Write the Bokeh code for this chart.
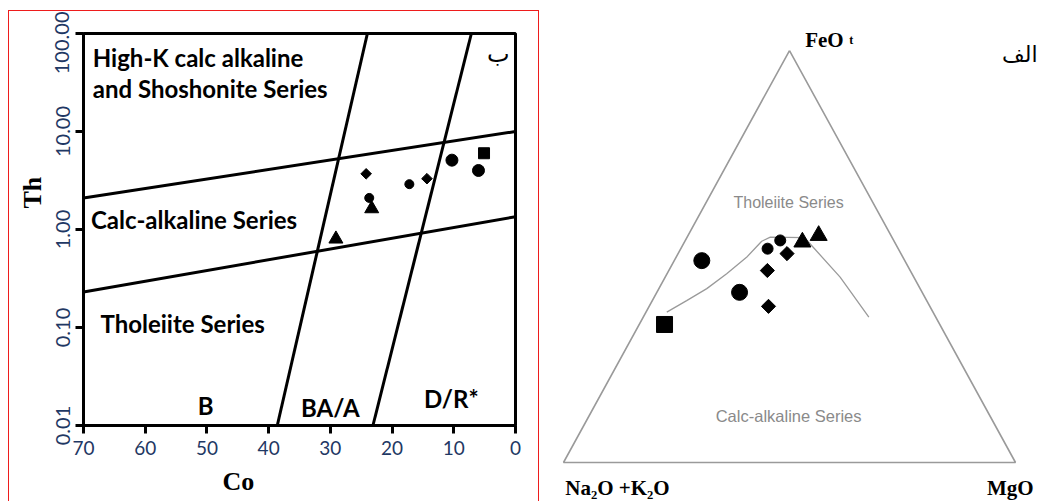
from bokeh.plotting import figure
from bokeh.models import Range1d, FixedTicker, CustomJSTickFormatter, Title
from bokeh.layouts import row
from bokeh.core.properties import value
from bokeh.embed import file_html
from bokeh.resources import INLINE

# ---------------- Left panel data: Th vs Co ----------------
co_ticks = [0, 10, 20, 30, 40, 50, 60, 70]
th_ticks = [0.01, 0.1, 1, 10, 100]

tri_co = [29.1, 23.3]
tri_th = [0.80, 1.63]
dia_co = [24.2, 14.35]
dia_th = [3.7, 3.3]
sc_co = [23.7, 17.2]
sc_th = [2.1, 2.9]
lc_co = [10.3, 6.0]
lc_th = [5.1, 4.0]
sq_co = [5.1]
sq_th = [6.0]

# boundary lines
upper_co = [70, 0]
upper_th = [2.1, 10.0]
lower_co = [70, 0]
lower_th = [0.23, 1.35]
div1_co = [38.6, 24.0]
div1_th = [0.01, 100]
div2_co = [23.1, 7.15]
div2_th = [0.01, 100]

# ---------------- Right panel data: AFM ternary (percent) ----------------
# F = FeOt, A = Na2O+K2O, M = MgO
sq_F = [33.5]; sq_M = [5.6]
lc_F = [49.0, 41.3]; lc_M = [6.1, 18.3]
sc_F = [51.9, 53.9]; sc_M = [19.2, 21.0]
dia_F = [50.7, 46.6, 37.9]; dia_M = [24.1, 21.8, 26.4]
tri_F = [53.5, 55.1]; tri_M = [26.1, 28.9]
curve_F = [36.5, 39.3, 42.2, 45.8, 49.8, 53.7, 54.7, 54.6, 45.0, 35.3]
curve_M = [4.6, 7.6, 10.6, 13.2, 15.6, 17.0, 18.4, 26.0, 38.7, 49.9]
corner_F = [100, 0, 0, 100]
corner_M = [0, 0, 100, 0]


def tern(F, M):
    xs = [m / 100.0 + f / 200.0 for f, m in zip(F, M)]
    ys = [f / 100.0 for f in F]
    return xs, ys


LABEL_COL = "#1F3864"

# ================= Left figure =================
p = figure(width=531, height=491, x_range=Range1d(70, 0), y_range=Range1d(0.01, 100),
           y_axis_type="log", output_backend="svg", toolbar_location=None,
           min_border_left=74, min_border_right=25, min_border_top=22, min_border_bottom=77,
           margin=(10, 0, 0, 8),
           styles={"border-top": "1px solid #ee1c1c", "border-left": "1px solid #ee1c1c",
                   "border-right": "1px solid #ee1c1c"})
p.frame_align = False
p.outline_line_color = "black"
p.outline_line_width = 3
p.xgrid.visible = False
p.ygrid.visible = False
p.background_fill_color = "white"
p.border_fill_color = "white"

p.xaxis.ticker = FixedTicker(ticks=co_ticks)
p.yaxis.ticker = FixedTicker(ticks=th_ticks, minor_ticks=[])
p.yaxis.formatter = CustomJSTickFormatter(code="return tick.toFixed(2);")
for ax in (p.xaxis[0], p.yaxis[0]):
    ax.axis_line_width = 3
    ax.axis_line_color = "black"
    ax.major_tick_line_width = 3
    ax.major_tick_out = 8
    ax.major_tick_in = 0
    ax.minor_tick_out = 0
    ax.minor_tick_in = 0
    ax.major_label_text_font = "Lato"
    ax.major_label_text_color = LABEL_COL
p.xaxis.major_label_text_font_size = "19px"
p.yaxis.major_label_text_font_size = "20px"
p.xaxis.major_label_standoff = 7
p.yaxis.major_label_standoff = 6
p.yaxis.major_label_orientation = "vertical"

for xs, ys in ((upper_co, upper_th), (lower_co, lower_th), (div1_co, div1_th), (div2_co, div2_th)):
    p.line(xs, ys, line_color="black", line_width=3)

p.scatter(tri_co, tri_th, marker="triangle", size=14, color="black")
p.scatter(dia_co, dia_th, marker="square", size=7.5, angle=0.785398, color="black")
p.scatter(sc_co, sc_th, marker="circle", size=9, color="black")
p.scatter(lc_co, lc_th, marker="circle", size=12, color="black")
p.scatter(sq_co, sq_th, marker="square", size=11, color="black")

bold = dict(text_font=value("Lato"), text_font_style="bold", text_color="black",
            text_baseline="middle")
p.text(x=[68.5, 68.5], y=[56.9, 27.5], text=["High-K calc alkaline", "and Shoshonite Series"],
       text_font_size="24px", text_align="left", **bold)
p.text(x=[68.8], y=[1.26], text=["Calc-alkaline Series"], text_font_size="24px",
       text_align="left", **bold)
p.text(x=[67.25], y=[0.11], text=["Tholeiite Series"], text_font_size="24px",
       text_align="left", **bold)
p.text(x=[50.2, 30.0, 10.4], y=[0.016, 0.0154, 0.0187], text=["B", "BA/A", "D/R*"],
       text_font_size="24px", text_align="center", **bold)
p.text(x=[2.8], y=[62.5], text=["ب"], text_font=value("DejaVu Sans"), text_font_size="24px",
       text_align="center", text_baseline="middle", text_color="black")

p.add_layout(Title(text="Co", align="left", offset=139, standoff=14,
                   text_font="Liberation Serif", text_font_style="bold",
                   text_font_size="26px", text_color="black"), "below")
p.add_layout(Title(text="Th", align="left", offset=217, standoff=12,
                   text_font="Liberation Serif", text_font_style="bold",
                   text_font_size="26px", text_color="black"), "left")

# ================= Right figure (ternary) =================
q = figure(width=502, height=502, x_range=Range1d(-0.0531, 1.0575),
           y_range=Range1d(-0.0971, 1.1214), output_backend="svg", toolbar_location=None,
           x_axis_location=None, y_axis_location=None, min_border=0)
q.frame_align = False
q.outline_line_color = None
q.xgrid.visible = False
q.ygrid.visible = False

tx, ty = tern(corner_F, corner_M)
q.line(tx, ty, line_color="#9a9a9a", line_width=1.6)
cx, cy = tern(curve_F, curve_M)
q.line(cx, cy, line_color="#9a9a9a", line_width=1.3)

x, y = tern(sq_F, sq_M)
q.scatter(x, y, marker="square", size=16, color="black")
x, y = tern(lc_F, lc_M)
q.scatter(x, y, marker="circle", size=16, color="black")
x, y = tern(sc_F, sc_M)
q.scatter(x, y, marker="circle", size=11, color="black")
x, y = tern(dia_F, dia_M)
q.scatter(x, y, marker="square", size=10, angle=0.785398, color="black")
x, y = tern(tri_F, tri_M)
q.scatter(x, y, marker="triangle", size=17, color="black")

gray = dict(text_font=value("Liberation Sans"), text_color="#8a8a8a", text_align="center",
            text_baseline="middle")
q.text(x=[0.498], y=[0.631], text=["Tholeiite Series"], text_font_size="16px", **gray)
q.text(x=[0.498], y=[0.114], text=["Calc-alkaline Series"], text_font_size="16.5px", **gray)

serif = dict(text_font=value("Liberation Serif"), text_font_style="bold", text_color="black",
             text_baseline="alphabetic")
q.text(x=[0.5347], y=[1.0267], text=["FeO"], text_font_size="21px", text_align="left", **serif)
q.text(x=[0.632], y=[1.0267], text=["t"], text_font_size="12px", text_align="left", **serif)
q.text(x=[0.0038], y=[-0.062], text=["Na₂O +K₂O"], text_font_size="21px",
       text_align="left", **serif)
q.text(x=[1.04], y=[-0.062], text=["MgO"], text_font_size="21px", text_align="right", **serif)
q.text(x=[1.0487], y=[0.99], text=["الف"], text_font=value("DejaVu Sans"),
       text_font_size="22px", text_align="right", text_baseline="alphabetic",
       text_color="black")

layout = row(p, q)
open("out.html", "w").write(file_html(layout, INLINE))
